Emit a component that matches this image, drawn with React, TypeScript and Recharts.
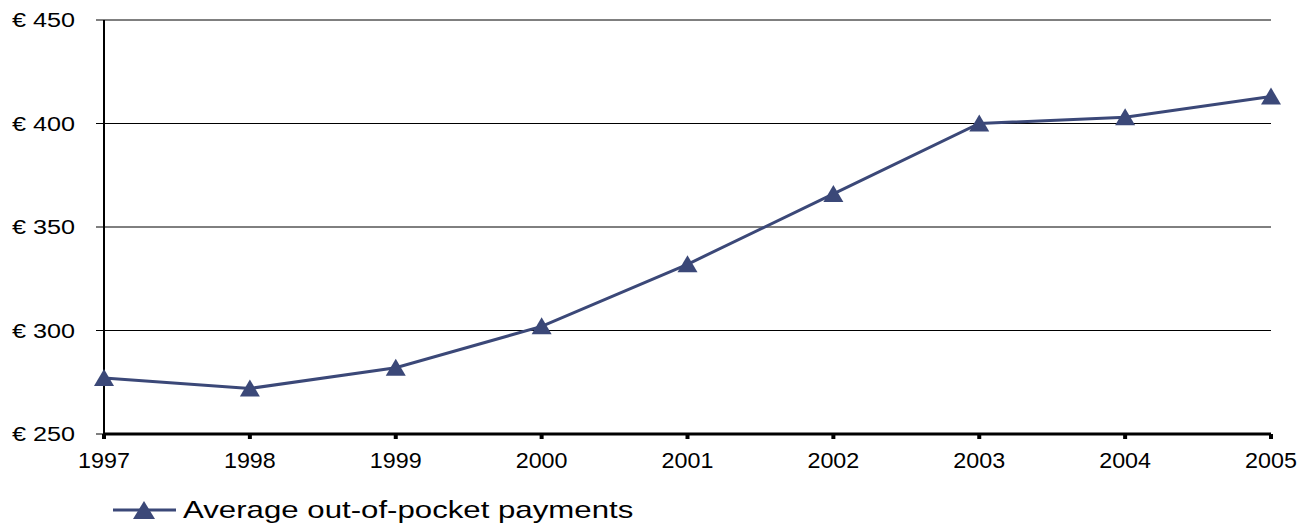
import React from "react";
import { LineChart, Line, XAxis, YAxis, CartesianGrid, Legend } from "recharts";

// data
const years = ["1997", "1998", "1999", "2000", "2001", "2002", "2003", "2004", "2005"];
const payments = [277, 272, 282, 302, 332, 366, 400, 403, 413];
const yTicks = [250, 300, 350, 400, 450];

const SERIES_NAME = "Average out-of-pocket payments";
const NAVY = "#3b4878";
const FONT = "'Liberation Sans', Arial, sans-serif";

const data = years.map((y, i) => ({ year: y, value: payments[i] }));

/* triangle marker */
const Triangle = (props: any) => {
  const { cx, cy } = props;
  if (cx == null || cy == null) return null;
  const w = 10;
  return (
    <path
      d={`M${cx},${cy - 9} L${cx + w},${cy + 8} L${cx - w},${cy + 8} Z`}
      fill={NAVY}
      stroke="none"
    />
  );
};

/* the original text is a bit stretched sideways */
const XTick = (props: any) => {
  const { x, y, payload } = props;
  return (
    <g transform={`translate(${x},${y + 27}) scale(1.06,1)`}>
      <text x={0} y={0} textAnchor="middle" fill="#000" fontSize={22} fontFamily={FONT}>
        {payload.value}
      </text>
    </g>
  );
};

const YTick = (props: any) => {
  const { x, y, payload } = props;
  return (
    <g transform={`translate(${x - 19},${y + 7}) scale(1.2,1)`}>
      <text x={0} y={0} textAnchor="end" fill="#000" fontSize={21} fontFamily={FONT}>
        {`€ ${payload.value}`}
      </text>
    </g>
  );
};

const LegendContent = () => (
  <svg width={620} height={28} style={{ display: "block" }}>
    <line x1={1} y1={14} x2={64} y2={14} stroke={NAVY} strokeWidth={3} />
    <path d="M32,5 L43,23 L21,23 Z" fill={NAVY} />
    <g transform="translate(71,22) scale(1.3,1)">
      <text x={0} y={0} fill="#000" fontSize={24} fontFamily={FONT}>
        {SERIES_NAME}
      </text>
    </g>
  </svg>
);

export default function App() {
  return (
    <div style={{ position: "absolute", left: 0, top: 0, width: 1300, height: 526, background: "#fff" }}>
      <LineChart
        width={1300}
        height={526}
        data={data}
        margin={{ top: 20, right: 29, left: 0, bottom: 0 }}
      >
        <CartesianGrid
          vertical={false}
          horizontal={{ shapeRendering: "crispEdges" } as any}
          stroke="#000"
          strokeWidth={1}
        />
        <XAxis
          dataKey="year"
          axisLine={{ stroke: "#000", strokeWidth: 3 }}
          tickLine={{ stroke: "#000", strokeWidth: 4 }}
          tickSize={5}
          height={62}
          tick={<XTick />}
          interval={0}
        />
        <YAxis
          domain={[250, 450]}
          ticks={yTicks}
          width={104}
          axisLine={{ stroke: "#000", strokeWidth: 2 }}
          tickLine={{ stroke: "#000", strokeWidth: 1 }}
          tickSize={8}
          tick={<YTick />}
        />
        <Legend
          verticalAlign="bottom"
          align="left"
          height={30}
          wrapperStyle={{ left: 112, bottom: 0 }}
          content={<LegendContent />}
        />
        <Line
          dataKey="value"
          name={SERIES_NAME}
          stroke={NAVY}
          strokeWidth={3}
          dot={<Triangle />}
          activeDot={false}
          isAnimationActive={false}
        />
      </LineChart>
    </div>
  );
}
